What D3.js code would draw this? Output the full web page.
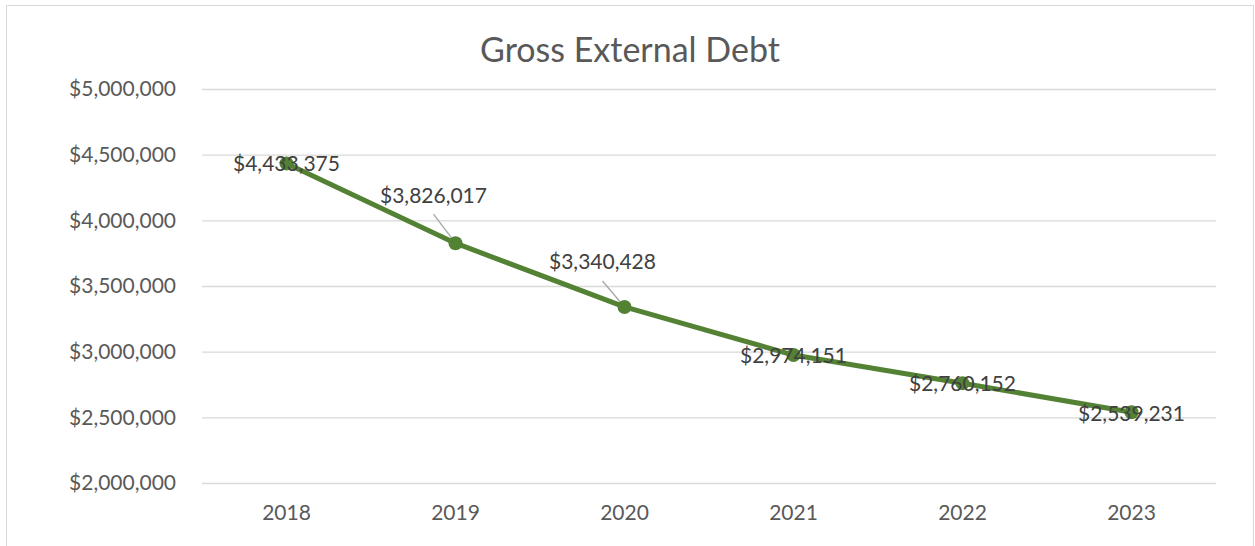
<!DOCTYPE html>
<html>
<head>
<meta charset="utf-8">
<script src="https://cdn.jsdelivr.net/npm/d3@7"></script>
<style>
  body { margin: 0; background: #fff; }
  svg { display: block; }
</style>
</head>
<body>
<svg id="chart" width="1255" height="546"></svg>
<script>
// Gross external debt by year
const years = ["2018", "2019", "2020", "2021", "2022", "2023"];
const debt = [4433375, 3826017, 3340428, 2974151, 2760152, 2539231];
const yTicks = [2000000, 2500000, 3000000, 3500000, 4000000, 4500000, 5000000];
// label offsets (dx, dy) relative to each point; moved ones get a leader line
const labelOffsets = [[0, 0], [-22, -48], [-22, -45], [0, 1], [0, 0], [0, 1]];

const svg = d3.select("#chart");
const font = "Lato, 'Open Sans', sans-serif";

// chart frame
svg.append("rect")
  .attr("x", 6.5).attr("y", 5.5)
  .attr("width", 1247).attr("height", 560)
  .attr("fill", "#fff").attr("stroke", "#d9d9d9").attr("stroke-width", 1);

const plot = { left: 202, right: 1216, top: 89, bottom: 483 };

const x = d3.scaleBand().domain(years).range([plot.left, plot.right]);
const y = d3.scaleLinear().domain([2000000, 5000000]).range([plot.bottom, plot.top]);

// title
svg.append("text")
  .attr("x", 630).attr("y", 62)
  .attr("text-anchor", "middle")
  .attr("font-family", font).attr("font-size", 34)
  .attr("fill", "#595959")
  .text("Gross External Debt");

// gridlines + y labels
const fmt = v => "$" + d3.format(",")(v);
const yAxis = d3.axisLeft(y).tickValues(yTicks).tickSize(-(plot.right - plot.left)).tickFormat(fmt).tickPadding(26);
const gy = svg.append("g").attr("transform", `translate(${plot.left},0)`).call(yAxis);
gy.select(".domain").remove();
gy.selectAll(".tick line").attr("stroke", "#d9d9d9").attr("stroke-width", 1.3);
gy.selectAll(".tick text")
  .attr("font-family", font).attr("font-size", 21).attr("fill", "#595959");

// x labels
const xAxis = d3.axisBottom(x).tickSize(0).tickPadding(22);
const gx = svg.append("g").attr("transform", `translate(0,${plot.bottom})`).call(xAxis);
gx.select(".domain").remove();
gx.selectAll(".tick text")
  .attr("font-family", font).attr("font-size", 21).attr("fill", "#595959");

const px = (d, i) => x(years[i]) + x.bandwidth() / 2;
const py = d => y(d);

// line
svg.append("path")
  .datum(debt)
  .attr("fill", "none")
  .attr("stroke", "#548235")
  .attr("stroke-width", 5)
  .attr("stroke-linejoin", "round")
  .attr("d", d3.line().x(px).y(py));

// leader lines
debt.forEach((d, i) => {
  const [dx, dy] = labelOffsets[i];
  if (Math.abs(dy) < 5) return;
  svg.append("line")
    .attr("x1", px(d, i) + dx).attr("y1", py(d) + dy + 19)
    .attr("x2", px(d, i)).attr("y2", py(d))
    .attr("stroke", "#a6a6a6").attr("stroke-width", 1.3);
});

// markers
svg.selectAll("circle.pt")
  .data(debt)
  .join("circle")
  .attr("class", "pt")
  .attr("cx", px).attr("cy", py)
  .attr("r", 7)
  .attr("fill", "#548235");

// data labels
svg.selectAll("text.lbl")
  .data(debt)
  .join("text")
  .attr("class", "lbl")
  .attr("x", (d, i) => px(d, i) + labelOffsets[i][0])
  .attr("y", (d, i) => py(d) + labelOffsets[i][1])
  .attr("dy", "0.35em")
  .attr("text-anchor", "middle")
  .attr("font-family", font).attr("font-size", 21)
  .attr("fill", "#404040")
  .text(fmt);
</script>
</body>
</html>
